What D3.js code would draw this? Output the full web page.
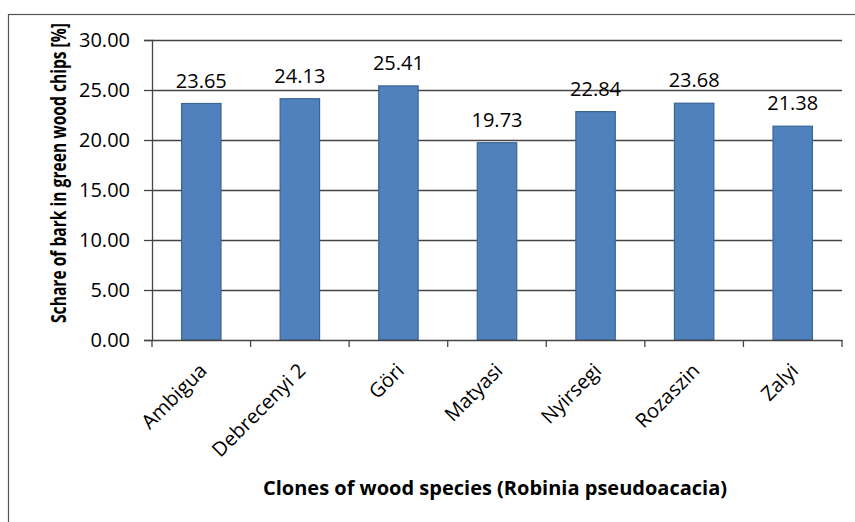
<!DOCTYPE html>
<html><head><meta charset="utf-8">
<script src="https://cdn.jsdelivr.net/npm/d3@7"></script>
<style>body{margin:0;background:#fff;}text{font-family:"Open Sans",sans-serif;fill:#000;}</style>
</head><body><svg id="c" width="855" height="522"></svg>
<script>
const categories = ["Ambigua","Debrecenyi 2","Göri","Matyasi","Nyirsegi","Rozaszin","Zalyi"];
const values = [23.65,24.13,25.41,19.73,22.84,23.68,21.38];
const yTicks = [0,5,10,15,20,25,30];
const yTitle = "Schare of bark in green wood chips [%]";
const xTitle = "Clones of wood species (Robinia pseudoacacia)";

const svg = d3.select("#c");
svg.append("rect").attr("x",8.5).attr("y",14.5).attr("width",900).attr("height",600)
  .attr("fill","#fff").attr("stroke","#555").attr("stroke-width",1.2);

const L=152,R=842,T=40,B=340;
const x = d3.scaleBand().domain(categories).range([L,R]).paddingInner(0.6).paddingOuter(0.3);
const xb = d3.scaleBand().domain(categories).range([L,R]);
const y = d3.scaleLinear().domain([0,30]).range([B,T]);

// gridlines
svg.append("g").selectAll("line").data(yTicks.filter(d=>d>0)).join("line")
  .attr("x1",L).attr("x2",R).attr("y1",d=>Math.round(y(d))+0.5).attr("y2",d=>Math.round(y(d))+0.5)
  .attr("stroke","#444").attr("stroke-width",1.3);

// bars
svg.append("g").selectAll("rect").data(values).join("rect")
  .attr("x",(d,i)=>x(categories[i])).attr("width",x.bandwidth())
  .attr("y",d=>y(d)).attr("height",d=>B-y(d))
  .attr("fill","#4F81BD").attr("stroke","#3B6597").attr("stroke-width",1.2);

// value labels
svg.append("g").selectAll("text").data(values).join("text")
  .attr("x",(d,i)=>x(categories[i])+x.bandwidth()/2).attr("y",d=>y(d)-16)
  .attr("text-anchor","middle").attr("font-size",20).text(d=>d.toFixed(2));

// y axis
const ya = d3.axisLeft(y).tickValues(yTicks).tickFormat(d=>d.toFixed(2)).tickSize(8).tickPadding(14);
const gy = svg.append("g").attr("transform",`translate(${L},0)`).call(ya);
gy.select(".domain").attr("stroke","#444").attr("stroke-width",1.3);
gy.selectAll(".tick line").attr("stroke","#444").attr("stroke-width",1.3);
gy.selectAll("text").attr("font-size",20).attr("font-family","Open Sans").attr("fill","#000");

// x axis
const xa = d3.axisBottom(xb).tickSize(0).tickFormat("");
const gx = svg.append("g").attr("transform",`translate(0,${B})`).call(xa);
gx.select(".domain").attr("stroke","#444").attr("stroke-width",1.3);
const bounds = categories.map(c=>xb(c)).concat([R]);
gx.selectAll("line.bt").data(bounds).join("line").attr("class","bt")
  .attr("x1",d=>d).attr("x2",d=>d).attr("y1",0).attr("y2",7).attr("stroke","#444").attr("stroke-width",1.3);
svg.append("g").selectAll("text").data(categories).join("text")
  .attr("transform",d=>`translate(${xb(d)+xb.bandwidth()/2-3},${B+22}) rotate(-45)`)
  .attr("text-anchor","end").attr("dy","0.7em").attr("font-size",20).text(d=>d);

// titles
const yt = svg.append("text").attr("text-anchor","middle").attr("font-size",21)
  .attr("font-weight","bold").text(yTitle);
const len = yt.node().getComputedTextLength();
yt.attr("transform",`translate(66,173) rotate(-90) scale(${300/len},1)`);
svg.append("text").attr("x",495).attr("y",495).attr("text-anchor","middle")
  .attr("font-size",20).attr("font-weight","bold").text(xTitle);
</script></body></html>
